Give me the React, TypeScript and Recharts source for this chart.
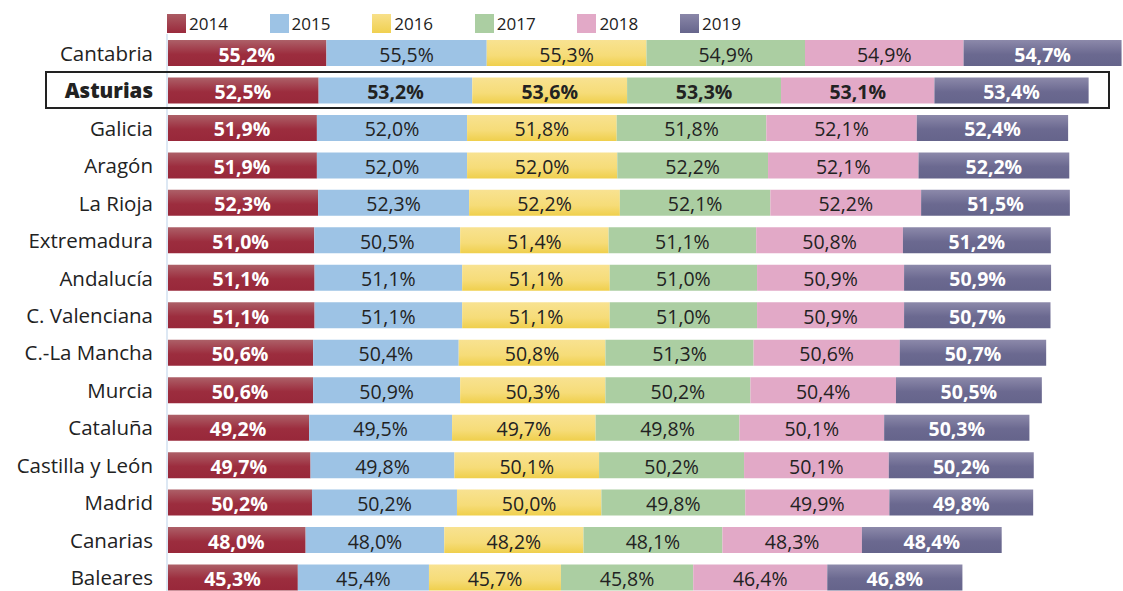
import { BarChart, Bar, XAxis, YAxis, LabelList } from "recharts";

const regions = [
	"Cantabria",
	"Asturias",
	"Galicia",
	"Aragón",
	"La Rioja",
	"Extremadura",
	"Andalucía",
	"C. Valenciana",
	"C.-La Mancha",
	"Murcia",
	"Cataluña",
	"Castilla y León",
	"Madrid",
	"Canarias",
	"Baleares",
];

const years = ["2014", "2015", "2016", "2017", "2018", "2019"];

const v2014 = [55.2, 52.5, 51.9, 51.9, 52.3, 51.0, 51.1, 51.1, 50.6, 50.6, 49.2, 49.7, 50.2, 48.0, 45.3];
const v2015 = [55.5, 53.2, 52.0, 52.0, 52.3, 50.5, 51.1, 51.1, 50.4, 50.9, 49.5, 49.8, 50.2, 48.0, 45.4];
const v2016 = [55.3, 53.6, 51.8, 52.0, 52.2, 51.4, 51.1, 51.1, 50.8, 50.3, 49.7, 50.1, 50.0, 48.2, 45.7];
const v2017 = [54.9, 53.3, 51.8, 52.2, 52.1, 51.1, 51.0, 51.0, 51.3, 50.2, 49.8, 50.2, 49.8, 48.1, 45.8];
const v2018 = [54.9, 53.1, 52.1, 52.1, 52.2, 50.8, 50.9, 50.9, 50.6, 50.4, 50.1, 50.1, 49.9, 48.3, 46.4];
const v2019 = [54.7, 53.4, 52.4, 52.2, 51.5, 51.2, 50.9, 50.7, 50.7, 50.5, 50.3, 50.2, 49.8, 48.4, 46.8];

const highlighted = "Asturias";

const series = [v2014, v2015, v2016, v2017, v2018, v2019];

const data = regions.map((name, i) => {
	const row: Record<string, string | number> = { name };
	years.forEach((y, k) => {
		row[y] = series[k][i];
	});
	return row;
});

// fill + label colour per year
const styles: Record<string, { fill: string; text: string; bold: boolean }> = {
	"2014": { fill: "url(#g2014)", text: "#ffffff", bold: true },
	"2015": { fill: "#9dc3e5", text: "#222222", bold: false },
	"2016": { fill: "url(#g2016)", text: "#222222", bold: false },
	"2017": { fill: "#abcea2", text: "#222222", bold: false },
	"2018": { fill: "#e2a9c7", text: "#222222", bold: false },
	"2019": { fill: "url(#g2019)", text: "#ffffff", bold: true },
};

const legendBg: Record<string, string> = {
	"2014": "linear-gradient(#ab5b63, #9a2a3c)",
	"2015": "#9dc3e5",
	"2016": "linear-gradient(#f8e08a, #f0d050)",
	"2017": "#abcea2",
	"2018": "#e2a9c7",
	"2019": "linear-gradient(#8a87a8, #66658c)",
};

const font = "'Open Sans', sans-serif";

const fmt = (v: number) => v.toFixed(1).replace(".", ",") + "%";

const RegionTick = (props: any) => {
	const { y, payload } = props;
	const hl = payload.value === highlighted;
	return (
		<text
			x={153}
			y={y}
			textAnchor="end"
			dominantBaseline="central"
			fontFamily={font}
			fontSize={20.5}
			fontWeight={hl ? 800 : 400}
			fill="#222"
		>
			{payload.value}
		</text>
	);
};

const makeLabel = (year: string) => (props: any) => {
	const { x, y, width, height, value, index } = props;
	const s = styles[year];
	const hl = regions[index] === highlighted;
	return (
		<text
			x={x + width / 2}
			y={y + height / 2 + 1}
			textAnchor="middle"
			dominantBaseline="central"
			fontFamily={font}
			fontSize={19.5}
			fontWeight={s.bold || hl ? 700 : 400}
			fill={s.text}
		>
			{fmt(value)}
		</text>
	);
};

export default function App() {
	return (
		<div
			style={{
				position: "absolute",
				left: 0,
				top: 0,
				width: 1123,
				height: 591,
				overflow: "hidden",
				background: "#fff",
			}}
		>
			<div
				style={{
					position: "absolute",
					left: 167,
					top: 12,
					display: "flex",
					fontFamily: font,
					fontSize: 17,
					color: "#222",
				}}
			>
				{years.map((y) => (
					<div key={y} style={{ display: "flex", alignItems: "center", width: 102.6 }}>
						<div style={{ width: 19, height: 19, background: legendBg[y], marginRight: 3 }} />
						<span>{y}</span>
					</div>
				))}
			</div>
			<BarChart
				width={1123}
				height={600}
				data={data}
				layout="vertical"
				margin={{ top: 34, right: 0, bottom: 4, left: 0 }}
				barCategoryGap={0}
			>
				<defs>
					<linearGradient id="g2014" x1="0" y1="0" x2="0" y2="1">
						<stop offset="0%" stopColor="#ad6068" />
						<stop offset="55%" stopColor="#9c2d3e" />
						<stop offset="100%" stopColor="#98283a" />
					</linearGradient>
					<linearGradient id="g2016" x1="0" y1="0" x2="0" y2="1">
						<stop offset="0%" stopColor="#f8e291" />
						<stop offset="60%" stopColor="#f6dc78" />
						<stop offset="100%" stopColor="#efcf4c" />
					</linearGradient>
					<linearGradient id="g2019" x1="0" y1="0" x2="0" y2="1">
						<stop offset="0%" stopColor="#8c89aa" />
						<stop offset="55%" stopColor="#6b6990" />
						<stop offset="100%" stopColor="#65648b" />
					</linearGradient>
				</defs>
				<XAxis type="number" domain={[0, 331]} hide />
				<YAxis
					type="category"
					dataKey="name"
					width={167}
					tickLine={false}
					axisLine={{ stroke: "#dde8f4", strokeWidth: 2 }}
					tick={<RegionTick />}
					interval={0}
				/>
				{years.map((y) => (
					<Bar
						key={y}
						dataKey={y}
						stackId="a"
						fill={styles[y].fill}
						barSize={26}
						isAnimationActive={false}
					>
						<LabelList dataKey={y} content={makeLabel(y)} />
					</Bar>
				))}
			</BarChart>
			<div
				style={{
					position: "absolute",
					left: 45,
					top: 71,
					width: 1061,
					height: 34,
					border: "2px solid #222",
					pointerEvents: "none",
				}}
			/>
		</div>
	);
}
